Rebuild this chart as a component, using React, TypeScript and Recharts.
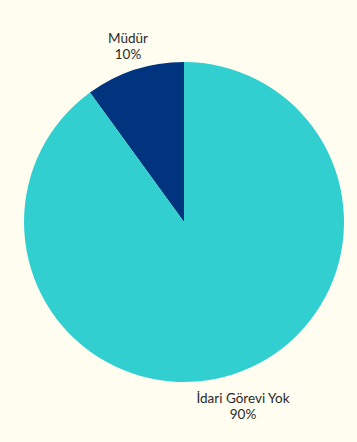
import { PieChart, Pie, Cell } from "recharts"

const categories = ["Müdür", "İdari Görevi Yok"]
const values = [10, 90]
const colors = ["#00347f", "#31cfcf"]

const data = categories.map((name, i) => ({ name, value: values[i] }))

const RAD = Math.PI / 180

function renderLabel(props: any) {
  const { cx, cy, midAngle, outerRadius, percent, name } = props
  const r = outerRadius + 26
  const x = cx + r * Math.cos(-midAngle * RAD) + 1.5
  const y = cy + r * Math.sin(-midAngle * RAD)
  const top = Math.sin(midAngle * RAD) > 0
  const y0 = top ? y - 2 : y + 4.5
  return (
    <text x={x} y={y0} textAnchor="middle" fill="#2a2a2a" fontSize={13.5} fontFamily="Lato, sans-serif">
      <tspan x={x} dy={0}>{name}</tspan>
      <tspan x={x} dy={16}>{`${(percent * 100).toFixed(0)}%`}</tspan>
    </text>
  )
}

export default function App() {
  return (
    <div style={{ position: "fixed", left: 0, top: 0, width: 357, height: 442, background: "#fffcf0" }}>
      <PieChart width={357} height={442} margin={{ top: 0, right: 0, bottom: 0, left: 0 }}>
        <Pie
          data={data}
          dataKey="value"
          nameKey="name"
          cx={184}
          cy={222}
          outerRadius={160}
          startAngle={90}
          endAngle={450}
          stroke="none"
          labelLine={false}
          label={renderLabel}
          isAnimationActive={false}
        >
          {data.map((entry, index) => (
            <Cell key={`cell-${index}`} fill={colors[index]} />
          ))}
        </Pie>
      </PieChart>
    </div>
  )
}
